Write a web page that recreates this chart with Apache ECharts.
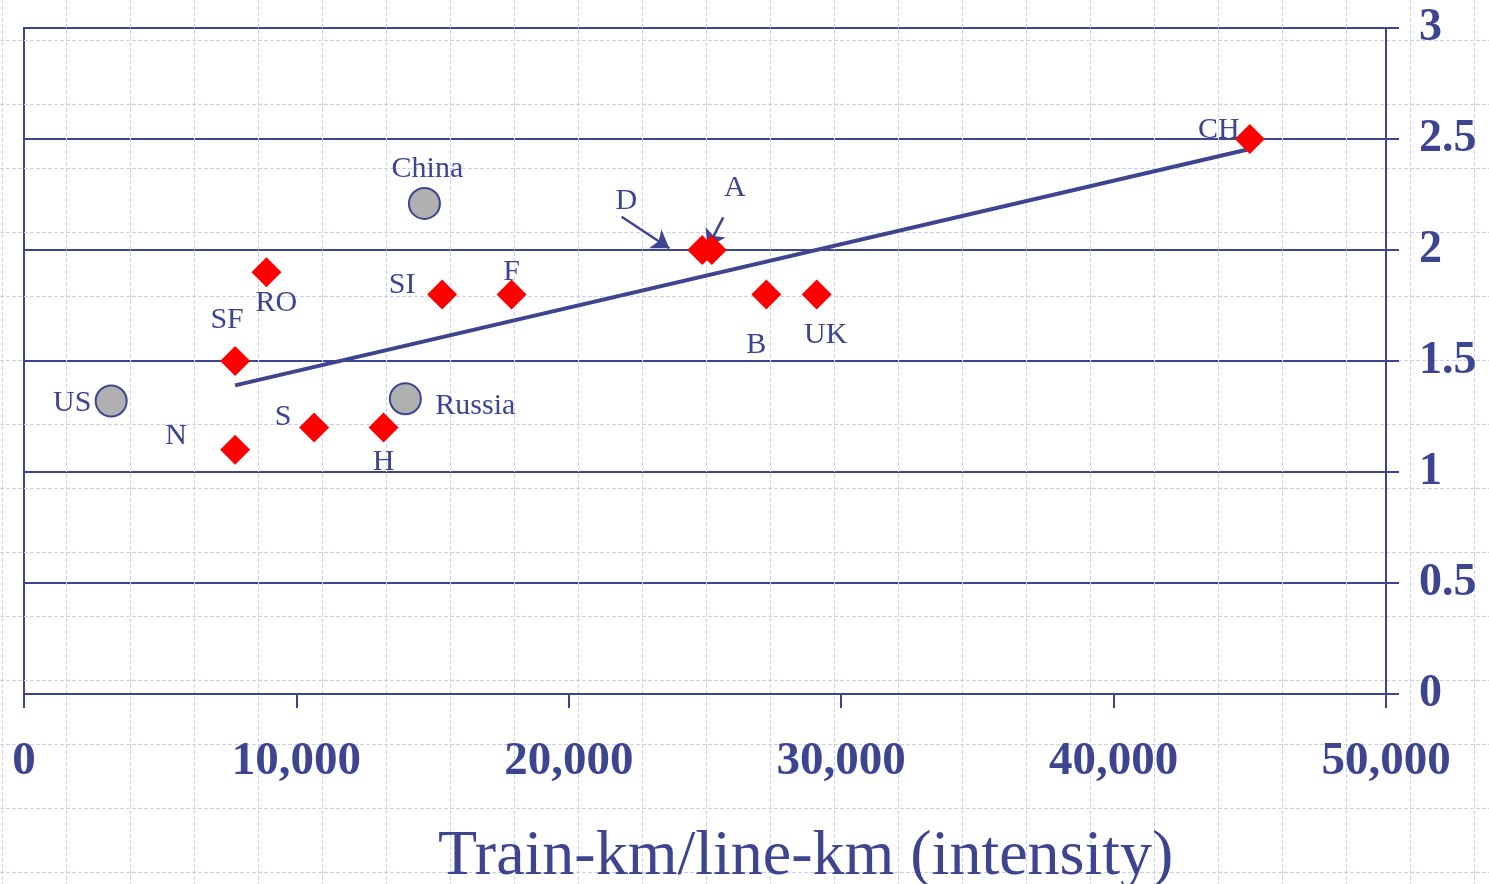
<!DOCTYPE html>
<html>
<head>
<meta charset="utf-8">
<script src="https://cdn.jsdelivr.net/npm/echarts@6/dist/echarts.min.js"></script>
<style>html,body{margin:0;padding:0;background:#fff;}#c{width:1489px;height:884px;}</style>
</head>
<body>
<div id="c"></div>
<script>
// ---- data ----
const countryNames = ['CH','D','A','RO','SF','SI','F','B','UK','N','S','H'];
const countryIntensity = [45000,24900,25250,8900,7750,15350,17900,27250,29100,7750,10650,13200];
const countryIndex = [2.5,2.0,2.0,1.9,1.5,1.8,1.8,1.8,1.8,1.1,1.2,1.2];
const otherNames = ['US','China','Russia'];
const otherIntensity = [3200,14700,14000];
const otherIndex = [1.32,2.21,1.33];
const trendIntensity = [7750,45000];
const trendIndex = [1.39,2.455];
// annotation arrows (start -> end), in data units
const arrowNames = ['D','A'];
const arrowFromX = [21940,25670];
const arrowFromY = [2.15,2.147];
const arrowToX = [23690,25100];
const arrowToY = [2.008,2.012];
const xTickValues = [0,10000,20000,30000,40000,50000];
const yTickValues = [0,0.5,1,1.5,2,2.5,3];
const xTitle = 'Train-km/line-km (intensity)';

// ---- layout / style ----
const NAVY = '#3d4590';
const SERIF = '"Liberation Serif","Times New Roman",serif';
const labelOffset = {
  CH:[-31,-9], D:[-76,-49], A:[23,-62], RO:[10,31], SF:[-8,-41], SI:[-40,-9],
  F:[0,-22], B:[-10,51], UK:[9,41], N:[-59,-14], S:[-31,-10], H:[0,35],
  US:[-39,2], China:[3,-34], Russia:[70,7]
};
const labelStyle = {fontFamily: SERIF, fontSize: 30, color: NAVY, align:'center', verticalAlign:'middle', textBorderWidth:0};

function items(names, xs, ys){
  return names.map((n,i)=>({name:n, value:[xs[i], ys[i]],
    label:{offset: labelOffset[n] || [0,0]}}));
}

const bgLine = {show:true, lineStyle:{color:'#c9d1f3', width:1, type:[4,2]}};
const chart = echarts.init(document.getElementById('c'), null, {renderer:'canvas'});
chart.setOption({
  animation:false,
  backgroundColor:'#ffffff',
  title:{text:xTitle, left:438, top:825, padding:0,
    textStyle:{fontFamily:SERIF, fontSize:64, fontWeight:'normal', color:NAVY}},
  grid:[
    {left:2.7, top:0, width:1472, height:884, show:false},
    {left:0, top:40.7, width:1489, height:832, show:false},
    {left:24, top:28, width:1362, height:666, show:true, borderColor:NAVY, borderWidth:2, backgroundColor:'transparent'}
  ],
  xAxis:[
    {gridIndex:0, type:'value', min:0, max:1472, interval:64, axisLine:{show:false}, axisTick:{show:false}, axisLabel:{show:false}, splitLine:bgLine},
    {gridIndex:1, type:'value', show:false, min:0, max:1},
    {gridIndex:2, type:'value', min:xTickValues[0], max:xTickValues[xTickValues.length-1], interval:xTickValues[1]-xTickValues[0],
      axisLine:{show:true, onZero:false, lineStyle:{color:NAVY, width:2}},
      axisTick:{show:true, length:14, lineStyle:{color:NAVY, width:2}},
      splitLine:{show:false},
      axisLabel:{margin:44, fontFamily:SERIF, fontSize:47, fontWeight:'bold', color:NAVY,
        formatter:v=>v.toLocaleString('en-US')}}
  ],
  yAxis:[
    {gridIndex:0, type:'value', show:false, min:0, max:1},
    {gridIndex:1, type:'value', min:0, max:832, interval:64, axisLine:{show:false}, axisTick:{show:false}, axisLabel:{show:false}, splitLine:bgLine},
    {gridIndex:2, type:'value', position:'right', min:yTickValues[0], max:yTickValues[yTickValues.length-1], interval:yTickValues[1]-yTickValues[0],
      axisLine:{show:true, onZero:false, lineStyle:{color:NAVY, width:2}},
      axisTick:{show:true, length:13, lineStyle:{color:NAVY, width:2}},
      splitLine:{show:true, lineStyle:{color:NAVY, width:2, type:'solid'}},
      axisLabel:{margin:33, padding:[6,0,0,0], fontFamily:SERIF, fontSize:46, fontWeight:'bold', color:NAVY,
        formatter:v=>String(v)}}
  ],
  series:[
    {type:'line', xAxisIndex:2, yAxisIndex:2, data:trendIntensity.map((x,i)=>[x,trendIndex[i]]),
      symbol:'none', lineStyle:{color:NAVY, width:4}, z:3},
    {type:'lines', coordinateSystem:'cartesian2d', xAxisIndex:2, yAxisIndex:2, z:4,
      symbol:['none','arrow'], symbolSize:[1,17],
      lineStyle:{color:NAVY, width:2.5, opacity:1, curveness:0},
      data:arrowNames.map((n,i)=>({coords:[[arrowFromX[i],arrowFromY[i]],[arrowToX[i],arrowToY[i]]]}))},
    {type:'scatter', xAxisIndex:2, yAxisIndex:2, z:5, symbol:'circle', symbolSize:31,
      itemStyle:{color:'#b0b0b0', borderColor:NAVY, borderWidth:2, opacity:1},
      label:Object.assign({show:true, position:'inside', formatter:p=>p.name}, labelStyle),
      data:items(otherNames, otherIntensity, otherIndex)},
    {type:'scatter', xAxisIndex:2, yAxisIndex:2, z:6, symbol:'diamond', symbolSize:30,
      itemStyle:{color:'#ff0000', opacity:1},
      label:Object.assign({show:true, position:'inside', formatter:p=>p.name}, labelStyle),
      data:items(countryNames, countryIntensity, countryIndex)}
  ]
});
</script>
</body>
</html>
